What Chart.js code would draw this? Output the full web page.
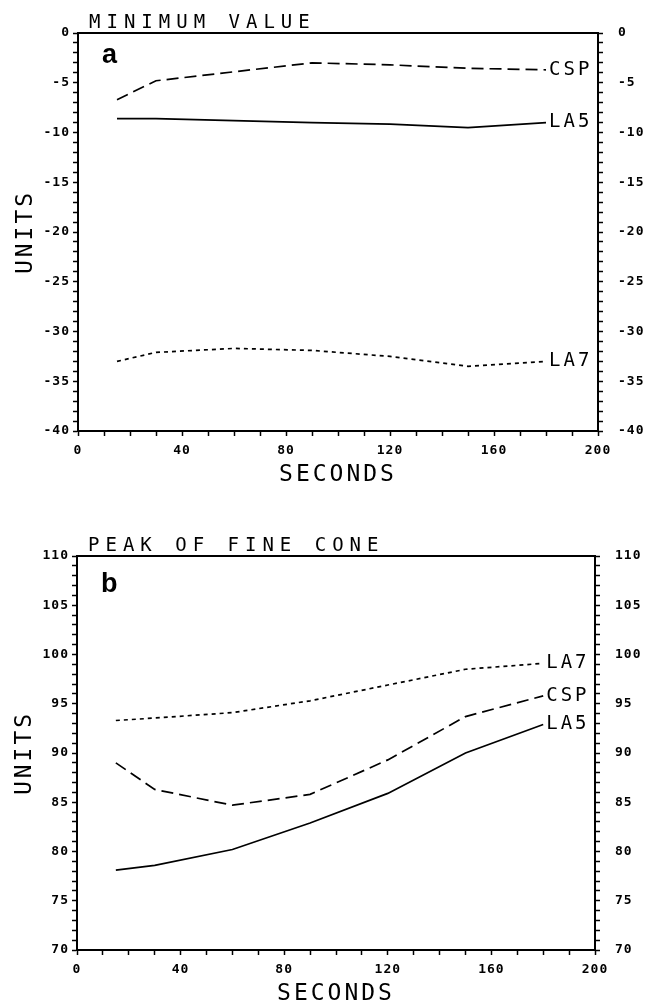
<!DOCTYPE html>
<html>
<head>
<meta charset="utf-8">
<script src="https://cdn.jsdelivr.net/npm/chart.js@4.4.0/dist/chart.umd.min.js"></script>
<style>
body { margin: 0; background: #fff; }
#wrap { position: relative; width: 647px; height: 1004px; }
canvas { position: absolute; left: 0; }
</style>
</head>
<body>
<div id="wrap">
<canvas id="chartA" width="647" height="500" style="top:0px"></canvas>
<canvas id="chartB" width="647" height="504" style="top:500px"></canvas>
</div>
<script>
// sample times (seconds)
var seconds = [15, 30, 60, 90, 120, 150, 180];
var xLabels = [0, 40, 80, 120, 160, 200];

// panel a - minimum value
var minCSP = [-6.7, -4.8, -3.9, -3.0, -3.2, -3.55, -3.7];
var minLA5 = [-8.6, -8.6, -8.8, -9.0, -9.15, -9.5, -9.0];
var minLA7 = [-33.0, -32.1, -31.7, -31.9, -32.5, -33.5, -33.0];
var minYLabels = [-40, -35, -30, -25, -20, -15, -10, -5, 0];

// panel b - peak of fine cone
var peakCSP = [89.0, 86.3, 84.7, 85.8, 89.3, 93.7, 95.8];
var peakLA5 = [78.1, 78.6, 80.2, 82.9, 85.9, 90.0, 92.9];
var peakLA7 = [93.3, 93.55, 94.1, 95.3, 96.9, 98.5, 99.1];
var peakYLabels = [70, 75, 80, 85, 90, 95, 100, 105, 110];

var MONO = '"DejaVu Sans Mono", monospace';

function pts(vals) {
	return seconds.map(function(s, i) { return {x: s, y: vals[i]}; });
}

var plotText = {
	id: 'plotText',
	beforeDraw: function(chart) {
		chart.ctx.letterSpacing = '1px';
	},
	afterDatasetsDraw: function(chart, args, opts) {
		var ctx = chart.ctx;
		var area = chart.chartArea;
		ctx.save();
		ctx.fillStyle = '#000';

		// series names at the end of each line
		ctx.font = '19px ' + MONO;
		ctx.letterSpacing = '3px';
		ctx.textAlign = 'left';
		ctx.textBaseline = 'middle';
		chart.data.datasets.forEach(function(ds, i) {
			var els = chart.getDatasetMeta(i).data;
			var last = els[els.length - 1];
			ctx.fillText(ds.label, last.x + 3, last.y);
		});

		ctx.textBaseline = 'alphabetic';
		ctx.font = '19px ' + MONO;
		ctx.letterSpacing = '6px';
		ctx.fillText(opts.title, area.left + 11, area.top - 5);

		ctx.font = 'bold 27px "Liberation Sans", sans-serif';
		ctx.letterSpacing = '0px';
		ctx.fillText(opts.letter, area.left + 24, area.top + opts.letterDrop);

		ctx.font = '23px ' + MONO;
		ctx.letterSpacing = '3px';
		ctx.textAlign = 'center';
		ctx.fillText('SECONDS', (area.left + area.right) / 2, area.bottom + 50);

		ctx.translate(area.left - 46, (area.top + area.bottom) / 2);
		ctx.rotate(-Math.PI / 2);
		ctx.fillText('UNITS', 0, 0);
		ctx.restore();
	}
};

function yAxis(pos, min, max, labels, width, pad) {
	return {
		type: 'linear',
		position: pos,
		min: min,
		max: max,
		ticks: {
			stepSize: 1,
			autoSkip: false,
			padding: pad,
			color: '#000',
			font: {family: MONO, size: 13, weight: 'bold'},
			callback: function(v) {
				return labels.indexOf(Math.round(v)) >= 0 ? String(Math.round(v)) : '';
			}
		},
		grid: {drawOnChartArea: false, color: '#000', tickLength: 5, tickWidth: 1.5},
		border: {color: '#000', width: 2},
		afterFit: function(s) { s.width = width; }
	};
}

function createConfig(details) {
	return {
		type: 'line',
		data: {
			datasets: [{
				label: 'CSP',
				data: pts(details.csp),
				borderColor: '#000',
				borderDash: [12, 6]
			}, {
				label: 'LA5',
				data: pts(details.la5),
				borderColor: '#000'
			}, {
				label: 'LA7',
				data: pts(details.la7),
				borderColor: '#000',
				borderDash: [4, 4]
			}]
		},
		options: {
			responsive: false,
			animation: false,
			devicePixelRatio: 1,
			layout: {padding: 0},
			datasets: {
				line: {borderWidth: 1.7, pointRadius: 0, tension: 0, fill: false}
			},
			plugins: {
				legend: {display: false},
				tooltip: {enabled: false},
				plotText: {title: details.title, letter: details.letter, letterDrop: details.letterDrop}
			},
			scales: {
				x: {
					type: 'linear',
					position: 'bottom',
					min: 0,
					max: 200,
					ticks: {
						stepSize: 10,
						autoSkip: false,
						maxRotation: 0,
						padding: 7,
						color: '#000',
						font: {family: MONO, size: 13, weight: 'bold'},
						callback: function(v) {
							return xLabels.indexOf(Math.round(v)) >= 0 ? String(Math.round(v)) : '';
						}
					},
					grid: {drawOnChartArea: false, color: '#000', tickLength: 5, tickWidth: 1.5},
					border: {color: '#000', width: 2},
					afterFit: function(s) { s.height = details.bottom; }
				},
				xTop: {
					type: 'linear',
					position: 'top',
					min: 0,
					max: 200,
					ticks: {display: false},
					grid: {drawOnChartArea: false, drawTicks: false},
					border: {color: '#000', width: 2},
					afterFit: function(s) { s.height = details.top; }
				},
				y: yAxis('left', details.min, details.max, details.yLabels, details.left, 3),
				y2: yAxis('right', details.min, details.max, details.yLabels, details.right, 15)
			}
		},
		plugins: [plotText]
	};
}

window.onload = function() {
	var panels = [{
		id: 'chartA', title: 'MINIMUM VALUE', letter: 'a', letterDrop: 30,
		csp: minCSP, la5: minLA5, la7: minLA7,
		min: -40, max: 0, yLabels: minYLabels,
		top: 33, bottom: 69, left: 78, right: 49
	}, {
		id: 'chartB', title: 'PEAK OF FINE CONE', letter: 'b', letterDrop: 36,
		csp: peakCSP, la5: peakLA5, la7: peakLA7,
		min: 70, max: 110, yLabels: peakYLabels,
		top: 56, bottom: 54, left: 77, right: 52
	}];

	panels.forEach(function(details) {
		var ctx = document.getElementById(details.id).getContext('2d');
		new Chart(ctx, createConfig(details));
	});
};
</script>
</body>
</html>
